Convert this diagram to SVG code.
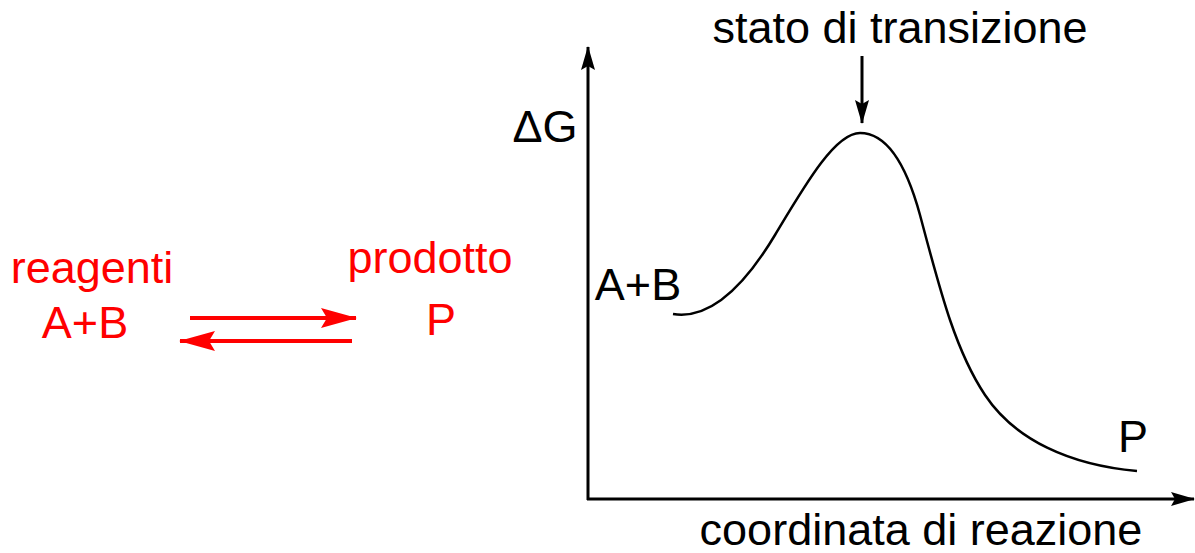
<svg xmlns="http://www.w3.org/2000/svg" width="1195" height="553" viewBox="0 0 1195 553">
<defs>
<style>
text{font-family:"Liberation Sans",Arial,sans-serif;font-size:45px;text-anchor:middle}
.red{fill:#ff0000}
.blk{fill:#000}
.ax{stroke:#000;stroke-width:3;fill:none}
.rl{stroke:#ff0000;stroke-width:4;fill:none}
</style>
<marker id="ah" viewBox="0 0 24 14" refX="23" refY="7" markerWidth="24" markerHeight="14" markerUnits="userSpaceOnUse" orient="auto">
<path d="M0,0 L24,7 L0,14 L4,7 Z" fill="#000"/>
</marker>
<marker id="rh" viewBox="0 0 36 20" refX="35" refY="10" markerWidth="36" markerHeight="20" markerUnits="userSpaceOnUse" orient="auto">
<path d="M0,0 L36,10 L0,20 L6,10 Z" fill="#ff0000"/>
</marker>
</defs>
<rect width="1195" height="553" fill="#fff"/>
<g id="connectors">
<line class="rl" x1="190" y1="318" x2="356" y2="318" marker-end="url(#rh)"/>
<line class="rl" x1="352" y1="341" x2="180" y2="341" marker-end="url(#rh)"/>
<line class="ax" x1="588" y1="500" x2="588" y2="47" marker-end="url(#ah)"/>
<line class="ax" x1="587" y1="499" x2="1194" y2="499" marker-end="url(#ah)"/>
<line class="ax" x1="862" y1="56" x2="862" y2="123" stroke-width="2.5" marker-end="url(#ah)"/>
</g>
<g id="curve">
<path d="M673,314 C710,320 745,285 775,235 C805,185 835,133 860,133 C885,133 905,160 920,215 C940,290 955,350 985,395 C1015,440 1070,465 1137,471" fill="none" stroke="#000" stroke-width="2.5"/>
</g>
<g id="reagenti"><text class="red" x="92" y="283">reagenti</text><text class="red" x="85" y="338">A+B</text></g>
<g id="prodotto"><text class="red" x="430" y="273">prodotto</text><text class="red" x="441" y="335">P</text></g>
<g id="stato"><text class="blk" x="900" y="43">stato di transizione</text></g>
<g id="dG"><text class="blk" x="545" y="142">ΔG</text></g>
<g id="AB"><text class="blk" x="638" y="300">A+B</text></g>
<g id="P"><text class="blk" x="1133" y="452">P</text></g>
<g id="xlabel"><text class="blk" x="921" y="545">coordinata di reazione</text></g>
</svg>
